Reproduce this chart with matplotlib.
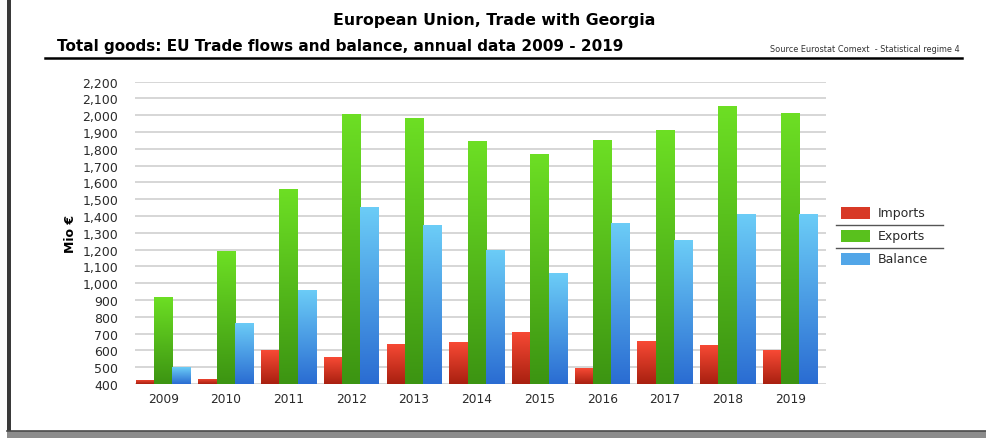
import numpy as np
import matplotlib
matplotlib.use("Agg")
import matplotlib.pyplot as plt
from matplotlib.colors import LinearSegmentedColormap
from matplotlib.patches import Rectangle
from matplotlib.lines import Line2D

plt.rcParams['font.family'] = ['DejaVu Sans']

# EU trade with Georgia, Mio EUR
years = ['2009', '2010', '2011', '2012', '2013', '2014',
         '2015', '2016', '2017', '2018', '2019']
imports = [425, 430, 600, 560, 640, 650, 710, 495, 655, 635, 600]
exports = [920, 1190, 1560, 2010, 1985, 1845, 1770, 1850, 1910, 2055, 2015]
balance = [500, 765, 960, 1455, 1345, 1200, 1060, 1360, 1260, 1415, 1415]
series_names = ['Imports', 'Exports', 'Balance']

# bottom / top colours of the vertical gradients
grad = {
    'Imports': ('#a82010', '#f84a35'),
    'Exports': ('#3c9412', '#6ddf24'),
    'Balance': ('#2a6cd2', '#6ccdf7'),
}

fig = plt.figure(figsize=(9.87, 4.39), dpi=100)
ax = fig.add_axes([135/987, 54/439, 691/987, 302.3/439])

x = np.arange(len(years))
w = 0.292
ymin, ymax = 400, 2200
grid_img = np.linspace(0, 1, 256).reshape(-1, 1)

for i, (name, vals) in enumerate(zip(series_names, [imports, exports, balance])):
    cmap = LinearSegmentedColormap.from_list(name, grad[name])
    bars = ax.bar(x + (i - 1) * w, np.array(vals) - ymin, w, bottom=ymin,
                  facecolor='none', edgecolor='none', zorder=3)
    for b in bars:
        x0, y0 = b.get_x(), b.get_y()
        x1, y1 = x0 + b.get_width(), y0 + b.get_height()
        im = ax.imshow(grid_img, cmap=cmap, origin='lower', aspect='auto',
                       extent=(x0, x1, y0, y1), zorder=3)
        im.set_clip_path(b)

ax.set_xlim(-0.45, len(years) - 1 + 0.57)
ax.set_ylim(ymin, ymax)
ax.set_yticks(range(400, 2201, 100))
ax.set_yticklabels([f'{v:,}' for v in range(400, 2201, 100)])
ax.set_xticks(x)
ax.set_xticklabels(years)
ax.yaxis.grid(True, color='#d6d6d6', linewidth=1.4, zorder=0)
ax.set_axisbelow(True)
for s in ax.spines.values():
    s.set_visible(False)
ax.tick_params(axis='y', length=0, pad=12, labelsize=9, labelcolor='#2a2a2a')
ax.tick_params(axis='x', length=0, pad=6, labelsize=8.8, labelcolor='#2a2a2a')
ax.set_ylabel('Mio €', fontsize=9, fontweight='bold', labelpad=4)

# titles and header rule
fig.text(494/987, 1 - 20/439, 'European Union, Trade with Georgia',
         ha='center', va='center', fontsize=11.3, fontweight='bold')
fig.text(57/987, 1 - 46/439,
         'Total goods: EU Trade flows and balance, annual data 2009 - 2019',
         ha='left', va='center', fontsize=11, fontweight='bold')
fig.text(960/987, 1 - 49/439, 'Source Eurostat Comext  - Statistical regime 4',
         ha='right', va='center', fontsize=5.9, color='#333333')
fig.add_artist(Line2D([45/987, 962/987], [1 - 58.5/439] * 2,
                      color='black', linewidth=1.8))

# legend with separator rules
for j, name in enumerate(series_names):
    yc = 1 - (214 + j * 23) / 439
    cmap = LinearSegmentedColormap.from_list(name, grad[name])
    fig.add_artist(Rectangle((841/987, yc - 6/439), 29/987, 12/439,
                             facecolor=cmap(0.6), edgecolor='none'))
    fig.text(878/987, yc, name, ha='left', va='center', fontsize=9,
             color='#2a2a2a')
    if j < 2:
        ly = 1 - (225.5 + j * 23) / 439
        fig.add_artist(Line2D([836/987, 943/987], [ly, ly],
                              color='#555555', linewidth=1.0))

# page edge on the left and bottom strip
fig.add_artist(Rectangle((7/987, 0), 4/987, 1, facecolor='#3a3a3a',
                         edgecolor='none'))
fig.add_artist(Rectangle((7/987, 0), 980/987, 7/439, facecolor='#8c8c8c',
                         edgecolor='none'))
fig.add_artist(Line2D([7/987, 1], [7/439, 7/439], color='#4a4a4a',
                      linewidth=1.2))

fig.savefig('out.png', dpi=100)
